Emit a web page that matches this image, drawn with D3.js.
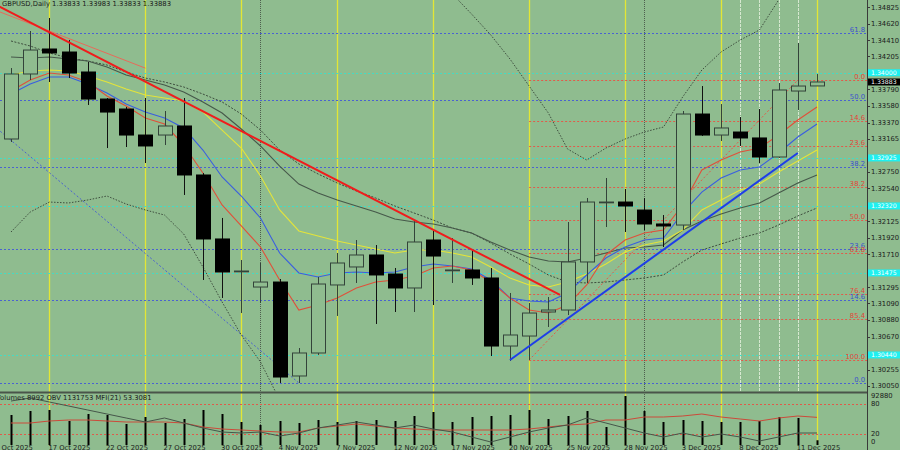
<!DOCTYPE html>
<html><head><meta charset="utf-8">
<script src="https://cdn.jsdelivr.net/npm/d3@7"></script>
<style>body{margin:0;background:#8fbc8f;}svg{display:block;font-family:"DejaVu Sans",sans-serif;}</style>
</head><body><svg id="c" width="900" height="450"></svg>
<script>
// ---- data ----
const candleDates = ["15 Oct","16 Oct","17 Oct","20 Oct","21 Oct","22 Oct","23 Oct","24 Oct","27 Oct","28 Oct","29 Oct","30 Oct","31 Oct",
  "3 Nov","4 Nov","5 Nov","6 Nov","7 Nov","10 Nov","11 Nov","12 Nov","13 Nov","14 Nov","17 Nov","18 Nov","19 Nov","20 Nov","21 Nov","24 Nov","25 Nov","26 Nov","27 Nov","28 Nov",
  "1 Dec","2 Dec","3 Dec","4 Dec","5 Dec","8 Dec","9 Dec","10 Dec","11 Dec","12 Dec"];
const timeLabelIdx = [-1,2,5,8,11,14,17,20,23,26,29,32,35,38,41];
const timeLabels = ["14 Oct 2025","17 Oct 2025","22 Oct 2025","27 Oct 2025","30 Oct 2025","4 Nov 2025","7 Nov 2025","12 Nov 2025","17 Nov 2025","20 Nov 2025","25 Nov 2025","28 Nov 2025","3 Dec 2025","8 Dec 2025","11 Dec 2025"];
const open  = [1.33164,1.33984,1.34299,1.34261,1.34009,1.33668,1.33542,1.33214,1.33214,1.33328,1.32710,1.31903,1.31499,1.31297,1.31360,1.30175,1.30465,1.31323,1.31550,1.31701,1.31461,1.31285,1.31890,1.31512,1.31512,1.31411,1.30553,1.30679,1.30982,1.31007,1.31613,1.32369,1.32369,1.32268,1.32092,1.32079,1.33479,1.33214,1.33252,1.33177,1.32937,1.33769,1.33833];
const high  = [1.34059,1.34526,1.34690,1.34413,1.34135,1.33681,1.33568,1.33681,1.33517,1.33681,1.32735,1.32168,1.31638,1.31600,1.31398,1.30528,1.31424,1.31726,1.31890,1.31827,1.31537,1.32130,1.32004,1.31915,1.31764,1.31537,1.31222,1.31096,1.31171,1.32117,1.32420,1.32672,1.32533,1.32420,1.32205,1.33517,1.33832,1.33605,1.33441,1.33542,1.33870,1.34375,1.33983];
const low   = [1.33126,1.33908,1.33883,1.33933,1.33593,1.33050,1.33063,1.32861,1.33088,1.32458,1.31386,1.31159,1.30969,1.31096,1.30087,1.30087,1.30440,1.30932,1.31348,1.30831,1.30982,1.30982,1.31070,1.31348,1.31323,1.30427,1.30364,1.30377,1.30793,1.30944,1.31348,1.32054,1.31991,1.32016,1.31802,1.32016,1.33202,1.33139,1.33076,1.32861,1.32924,1.33530,1.33833];
const close = [1.33984,1.34286,1.34249,1.33996,1.33668,1.33504,1.33214,1.33076,1.33328,1.32710,1.31903,1.31487,1.31499,1.31360,1.30162,1.30465,1.31335,1.31600,1.31701,1.31449,1.31285,1.31865,1.31688,1.31512,1.31411,1.30553,1.30692,1.30969,1.31007,1.31613,1.32369,1.32369,1.32319,1.32092,1.32067,1.33479,1.33214,1.33303,1.33177,1.32937,1.33782,1.33832,1.33883];
const maRed    = [1.33769,1.33908,1.33996,1.33971,1.33883,1.33706,1.33580,1.33429,1.33353,1.33088,1.32735,1.32332,1.32067,1.31802,1.31386,1.31007,1.31070,1.31159,1.31285,1.31360,1.31386,1.31436,1.31537,1.31562,1.31512,1.31360,1.31159,1.31007,1.30969,1.31070,1.31323,1.31701,1.31890,1.31978,1.32016,1.32332,1.32773,1.32899,1.33000,1.33050,1.33214,1.33404,1.33568];
const maBlue   = [1.33731,1.33858,1.33946,1.33946,1.33858,1.33744,1.33605,1.33505,1.33429,1.33303,1.33025,1.32685,1.32445,1.32168,1.31726,1.31474,1.31423,1.31474,1.31487,1.31474,1.31487,1.31550,1.31587,1.31562,1.31524,1.31386,1.31159,1.31121,1.31108,1.31222,1.31449,1.31663,1.31802,1.31890,1.31915,1.32231,1.32495,1.32672,1.32773,1.32811,1.32987,1.33189,1.33353];
const maYellow = [1.33971,1.34022,1.34034,1.34022,1.33959,1.33883,1.33795,1.33719,1.33681,1.33643,1.33505,1.33277,1.33050,1.32697,1.32269,1.32004,1.31941,1.31878,1.31827,1.31777,1.31726,1.31764,1.31764,1.31726,1.31676,1.31550,1.31411,1.31323,1.31297,1.31360,1.31461,1.31587,1.31739,1.31827,1.31878,1.32016,1.32269,1.32395,1.32521,1.32596,1.32748,1.32887,1.33025];
const maSlow   = [1.34198,1.34186,1.34198,1.34173,1.34148,1.34072,1.33971,1.33908,1.33845,1.33757,1.33631,1.33492,1.33290,1.33076,1.32823,1.32596,1.32483,1.32395,1.32319,1.32243,1.32155,1.32117,1.32092,1.32041,1.31978,1.31865,1.31764,1.31676,1.31625,1.31613,1.31663,1.31726,1.31789,1.31802,1.31827,1.32016,1.32130,1.32218,1.32294,1.32357,1.32483,1.32609,1.32710];
const bbMid    = [1.34400,1.34337,1.34249,1.34186,1.34148,1.34097,1.34009,1.33933,1.33883,1.33820,1.33731,1.33631,1.33479,1.33277,1.33025,1.32849,1.32723,1.32609,1.32508,1.32420,1.32319,1.32231,1.32142,1.32041,1.31978,1.31852,1.31714,1.31587,1.31449,1.31360,1.31348,1.31360,1.31386,1.31411,1.31449,1.31613,1.31764,1.31840,1.31915,1.31978,1.32079,1.32193,1.32294];
const bbUpper  = [1.36809,1.36430,1.36128,1.36014,1.35901,1.35749,1.35674,1.35598,1.35560,1.35674,1.35913,1.36153,1.36267,1.36203,1.36178,1.36077,1.35951,1.35850,1.35699,1.35573,1.35447,1.35295,1.35144,1.34993,1.34740,1.34476,1.34173,1.33832,1.33492,1.33038,1.32899,1.33050,1.33164,1.33252,1.33315,1.33694,1.34034,1.34261,1.34413,1.34539,1.34917,1.35169,1.35422];
const bbLower  = [1.31991,1.32243,1.32369,1.32357,1.32395,1.32445,1.32344,1.32269,1.32205,1.31966,1.31550,1.31108,1.30692,1.30352,1.29872,1.29620,1.29494,1.29368,1.29317,1.29267,1.29191,1.29166,1.29141,1.29090,1.29216,1.29229,1.29254,1.29343,1.29406,1.29683,1.29797,1.29670,1.29607,1.29570,1.29582,1.29532,1.29494,1.29418,1.29418,1.29418,1.29242,1.29216,1.29166];
const volume = [56865,64447,66343,45492,58761,56865,39806,53074,41701,49283,66343,58761,43597,37910,45492,41701,47388,43597,45492,47388,45492,54970,62552,43597,53074,54970,56865,66343,49283,54970,64447,34119,92880,64447,43597,47388,45492,43597,43597,45492,53074,51179,8992];
const obv = [1483753,1516753,1472753,1428753,1384753,1340753,1296753,1252753,1296753,1241753,1186753,1142753,1131753,1142753,1098753,1131753,1186753,1219753,1252753,1219753,1186753,1219753,1175753,1142753,1087753,1032753,1087753,1142753,1186753,1219753,1296753,1241753,1186753,1131753,1087753,1131753,1087753,1120753,1087753,1043753,1087753,1131753,1131753];
const mfi = [42,42,46,48,48,46,44,44,44,42,34,30,28,26,24,24,32,36,40,36,32,30,28,28,28,28,28,30,34,38,40,48,48,54,54,56,60,54,50,46,52,56,53.31];
// visible price-scale labels (those hidden under the level tags are left out)
const priceTicks = ["1.34825","1.34620","1.34410","1.34205","1.33790","1.33580","1.33370","1.33165","1.32750","1.32540","1.32125","1.31920","1.31710","1.31295","1.31090","1.30880","1.30670","1.30255","1.30050"];
const fibBlueAnchors = [[-20, 1.37228], [15, 1.30087]];
const fibBlueLevels = [0, 14.6, 23.6, 38.2, 50.0, 61.8, 76.4, 100.0];
const fibRedAnchors = [[27, 1.30377], [41, 1.33908]];
const fibRedLevels = [0, 14.6, 23.6, 38.2, 50.0, 61.8, 76.4, 85.4, 100.0];
const cyanLevels = [1.34000, 1.32925, 1.32320, 1.31475, 1.30440];
const trendRed = [[-1, 1.34882], [28.61, 1.31197]];
const trendRedThin = [[-1, 1.34806], [7, 1.34058]];
const trendBlue = [[26, 1.30377], [41, 1.32987]];
const fridayIdx = [2,7,12,17,22,27,32,37,42];
const monthIdx = [13,33];
const markIdx = [38,39,40,41];
const subLevels = [80, 20];
const subLabelText = "Volumes 8992  OBV 1131753  MFI(21) 53.3081";
const titleText = "GBPUSD,Daily  1.33833 1.33983 1.33833 1.33883";

// ---- layout ----
const AX = 867, MAIN_B = 391, SEP = 392.5;
const svg = d3.select("#c");
const x = d3.scaleLinear().domain([0, 42]).range([11, 817]);
const y = d3.scaleLinear().domain([1.30050, 1.34825]).range([385.9, 7.3]);
const volY = d3.scaleLinear().domain([0, 92880]).range([445, 396]);
const mfiY = d3.scaleLinear().domain([0, 100]).range([444, 394]);
const obvY = d3.scaleLinear().domain([999753, 1582753]).range([445, 392]);
const FONT = 6.8, TXT = "#1c1c1c";

svg.append("rect").attr("width", 900).attr("height", 450).attr("fill", "#8fbc8f");
const defs = svg.append("defs");
defs.append("clipPath").attr("id", "mc").append("rect").attr("x", 0).attr("y", 0).attr("width", AX).attr("height", MAIN_B);
defs.append("clipPath").attr("id", "sc").append("rect").attr("x", 0).attr("y", 393).attr("width", AX).attr("height", 57);

// vertical separators
const vg = svg.append("g");
vg.selectAll(".fri").data(fridayIdx).join("line")
  .attr("x1", d => Math.round(x(d)) + 0.5).attr("x2", d => Math.round(x(d)) + 0.5)
  .attr("y1", 0).attr("y2", 445).attr("stroke", "#e2e636").attr("stroke-width", 1.3);
vg.selectAll(".mon").data(monthIdx).join("line")
  .attr("x1", d => Math.round(x(d)) + 0.5).attr("x2", d => Math.round(x(d)) + 0.5)
  .attr("y1", 0).attr("y2", 445).attr("stroke", "#4e5e4e").attr("stroke-dasharray", "1,1");
vg.selectAll(".mk").data(markIdx).join("line")
  .attr("x1", d => Math.round(x(d)) + 0.5).attr("x2", d => Math.round(x(d)) + 0.5)
  .attr("y1", 0).attr("y2", MAIN_B).attr("stroke", "#d6e8d0").attr("stroke-width", 1).attr("stroke-dasharray", "3,1");

const g = svg.append("g").attr("clip-path", "url(#mc)");

// horizontal levels
const fibPrice = (anch, lvl) => anch[1][1] + lvl / 100 * (anch[0][1] - anch[1][1]);
g.selectAll(".cy").data(cyanLevels).join("line")
  .attr("x1", 0).attr("x2", AX).attr("y1", d => Math.round(y(d)) + 0.5).attr("y2", d => Math.round(y(d)) + 0.5)
  .attr("stroke", "#44dcc4").attr("stroke-dasharray", "2,2");
g.selectAll(".fb").data(fibBlueLevels).join("line")
  .attr("x1", 0).attr("x2", AX)
  .attr("y1", d => Math.round(y(fibPrice(fibBlueAnchors, d))) + 0.5).attr("y2", d => Math.round(y(fibPrice(fibBlueAnchors, d))) + 0.5)
  .attr("stroke", "#4a62d0").attr("stroke-dasharray", "2,2");
g.selectAll(".fr").data(fibRedLevels).join("line")
  .attr("x1", x(fibRedAnchors[0][0])).attr("x2", AX)
  .attr("y1", d => Math.round(y(fibPrice(fibRedAnchors, d))) + 0.5).attr("y2", d => Math.round(y(fibPrice(fibRedAnchors, d))) + 0.5)
  .attr("stroke", "#e25a4a").attr("stroke-dasharray", "2,2");
// fib diagonals
const seg = (a, col, w, dash) => g.append("line")
  .attr("x1", x(a[0][0])).attr("y1", y(a[0][1])).attr("x2", x(a[1][0])).attr("y2", y(a[1][1]))
  .attr("stroke", col).attr("stroke-width", w).attr("stroke-dasharray", dash || null);
seg(fibBlueAnchors, "#4a62d0", 1, "2,2");
seg(fibRedAnchors, "#e25a4a", 1, "2,2");

// indicator lines
const line = d3.line().x((d, i) => x(i)).y(d => y(d));
const path = (arr, col, w, dash) => g.append("path").attr("d", line(arr)).attr("fill", "none")
  .attr("stroke", col).attr("stroke-width", w).attr("stroke-dasharray", dash || null);
path(bbUpper, "#3e4e3e", 1, "1.5,1.5");
path(bbLower, "#3e4e3e", 1, "1.5,1.5");
path(bbMid, "#3e4e3e", 1, "2,1.5");
path(maSlow, "#46584a", 1.1);
path(maYellow, "#e4e43a", 1.1);
path(maBlue, "#3a5ee0", 1.1);
path(maRed, "#e0503a", 1.1);

// candles
const idx = d3.range(open.length);
const cg = g.append("g");
cg.selectAll(".wick").data(idx).join("line")
  .attr("x1", i => Math.round(x(i)) + 0.5).attr("x2", i => Math.round(x(i)) + 0.5)
  .attr("y1", i => y(high[i])).attr("y2", i => y(low[i]))
  .attr("stroke", i => close[i] >= open[i] ? "#33433a" : "#111").attr("stroke-width", 1);
cg.selectAll(".body").data(idx).join("rect")
  .attr("x", i => Math.round(x(i)) - 6.5).attr("width", 14)
  .attr("y", i => Math.min(y(open[i]), y(close[i])))
  .attr("height", i => Math.max(0.8, Math.abs(y(open[i]) - y(close[i]))))
  .attr("fill", i => close[i] >= open[i] ? "#8fbc8f" : "#000")
  .attr("stroke", i => close[i] >= open[i] ? "#33433a" : "#000").attr("stroke-width", 1);

// trend lines
seg(trendRedThin, "#e86a5a", 1);
seg(trendRed, "#f01c1c", 2);
seg(trendBlue, "#1e3ee8", 2);

// fib labels
const lab = svg.append("g").attr("font-size", FONT).attr("text-anchor", "end");
lab.selectAll(".lb").data(fibBlueLevels.filter(d => y(fibPrice(fibBlueAnchors, d)) > 5)).join("text")
  .attr("x", 865).attr("y", d => y(fibPrice(fibBlueAnchors, d)) - 1)
  .attr("fill", "#3c52cc").text(d => d.toFixed(1));
lab.selectAll(".lr").data(fibRedLevels).join("text")
  .attr("x", 865).attr("y", d => y(fibPrice(fibRedAnchors, d)) - 1)
  .attr("fill", "#e2463a").text(d => d.toFixed(1));

// title
svg.append("text").attr("x", 2).attr("y", 6).attr("font-size", FONT).attr("fill", TXT).text(titleText);

// separator
svg.append("line").attr("x1", 0).attr("x2", AX).attr("y1", SEP).attr("y2", SEP).attr("stroke", "#4a544a").attr("stroke-width", 2);

// sub window
const sg = svg.append("g").attr("clip-path", "url(#sc)");
sg.selectAll(".lv").data(subLevels).join("line")
  .attr("x1", 0).attr("x2", AX).attr("y1", d => Math.round(mfiY(d)) + 0.5).attr("y2", d => Math.round(mfiY(d)) + 0.5)
  .attr("stroke", "#e05a4a").attr("stroke-dasharray", "2,2");
sg.selectAll(".vb").data(idx).join("line")
  .attr("x1", i => Math.round(x(i)) + 0.5).attr("x2", i => Math.round(x(i)) + 0.5)
  .attr("y1", volY(0)).attr("y2", i => volY(volume[i]))
  .attr("stroke", "#000").attr("stroke-width", 2);
sg.append("path").attr("d", d3.line().x((d, i) => x(i)).y(d => mfiY(d))(mfi))
  .attr("fill", "none").attr("stroke", "#cc4a3a").attr("stroke-width", 1);
sg.append("path").attr("d", d3.line().x((d, i) => x(i)).y(d => obvY(d))(obv))
  .attr("fill", "none").attr("stroke", "#46564a").attr("stroke-width", 1);
svg.append("text").attr("x", -4).attr("y", 400).attr("font-size", FONT).attr("fill", TXT).text(subLabelText);

// price axis
svg.append("line").attr("x1", AX + 0.5).attr("x2", AX + 0.5).attr("y1", 0).attr("y2", 450).attr("stroke", "#3a3a3a");
const ax = svg.append("g").attr("font-size", FONT).attr("fill", TXT);
ax.selectAll(".tk").data(priceTicks).join("line")
  .attr("x1", AX).attr("x2", AX + 3).attr("y1", d => Math.round(y(+d)) + 0.5).attr("y2", d => Math.round(y(+d)) + 0.5).attr("stroke", "#3a3a3a");
ax.selectAll(".tl").data(priceTicks).join("text")
  .attr("x", 871).attr("y", d => y(+d)).attr("dy", "0.35em").text(d => d);
// cyan level tags
const tag = svg.append("g").attr("font-size", 6.2);
cyanLevels.forEach(p => {
  const yy = y(p);
  tag.append("rect").attr("x", AX + 1).attr("y", yy - 3.5).attr("width", 900 - AX).attr("height", 7).attr("fill", "#1ef0f0");
  tag.append("text").attr("x", 871).attr("y", yy).attr("dy", "0.35em").attr("fill", "#ffffff").text(p.toFixed(5));
});
// current price tag
const cy = y(close[close.length - 1]);
tag.append("rect").attr("x", AX + 1).attr("y", cy - 3.5).attr("width", 900 - AX).attr("height", 7).attr("fill", "#000");
tag.append("text").attr("x", 871).attr("y", cy).attr("dy", "0.35em").attr("fill", "#fff").text(close[close.length - 1].toFixed(5));

// sub axis labels
const subTicks = [[volY(92880), "92880"], [mfiY(80), "80"], [mfiY(20), "20"], [mfiY(0) - 2, "0"]];
ax.selectAll(".st").data(subTicks).join("text").attr("x", 871).attr("y", d => d[0]).attr("dy", "0.35em").text(d => d[1]);

// time labels
ax.selectAll(".tm").data(timeLabelIdx).join("text")
  .attr("x", d => x(d) - 1).attr("y", 449.5).text((d, i) => timeLabels[i]);
</script>
</body></html>
